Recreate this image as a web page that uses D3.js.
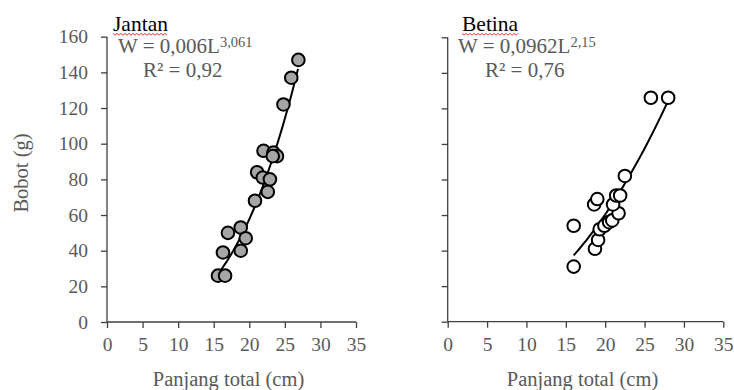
<!DOCTYPE html>
<html>
<head>
<meta charset="utf-8">
<script src="https://cdn.jsdelivr.net/npm/d3@7"></script>
<style>
  body { margin: 0; background: #fff; }
  svg { font-family: "Liberation Serif", "Times New Roman", serif; }
  .axis path, .axis line { stroke: #404040; stroke-width: 1.3; }
  .axis text { fill: #595959; font-size: 19.5px; font-family: "Liberation Serif", serif; }
</style>
</head>
<body>
<div id="chart"></div>
<script>
// x ticks and y ticks
var xTicks = [0, 5, 10, 15, 20, 25, 30, 35];
var yTicks = [0, 20, 40, 60, 80, 100, 120, 140, 160];

// Jantan (male): total length (cm) and weight (g)
var jantanL = [15.6, 16.6, 16.3, 17.0, 18.8, 19.5, 18.8, 20.8, 21.1, 21.9, 22.9, 22.6, 22.0, 23.4, 23.9, 23.3, 24.8, 25.9, 26.9];
var jantanW = [26, 26, 39, 50, 53, 47, 40, 68, 84, 81, 80, 73, 96, 95, 93, 93, 122, 137, 147];

// Betina (female)
var betinaL = [16.0, 16.0, 18.7, 19.1, 19.3, 19.9, 20.5, 20.9, 21.7, 21.0, 18.6, 19.0, 21.4, 21.9, 22.5, 25.8, 28.0];
var betinaW = [31, 54, 41, 46, 52, 54, 56, 57, 61, 66, 66, 69, 71, 71, 82, 126, 126];

// fitted power curves (as printed on the chart)
var jantanFit = {a: 0.006, b: 3.061, from: 15.6, to: 26.9};
var betinaFit = {a: 0.0962, b: 2.15, from: 16.0, to: 28.0};

var svg = d3.select("#chart").append("svg").attr("width", 734).attr("height", 390);

function panel(opt) {
    var x = d3.scaleLinear().domain([0, 35]).range([opt.left, opt.right]);
    var y = d3.scaleLinear().domain([0, 160]).range([opt.bottom, opt.top]);

    var xAxis = d3.axisBottom(x).tickValues(xTicks).tickSize(6).tickPadding(9);
    var yAxis = d3.axisLeft(y).tickValues(yTicks).tickSize(6).tickPadding(13);
    if (!opt.yLabels) yAxis.tickFormat("");

    svg.append("g").attr("class", "axis x")
        .attr("transform", "translate(0," + opt.bottom + ")")
        .call(xAxis)
        .call(function (g) { g.select(".domain").attr("d", "M" + opt.left + ",0H" + opt.right); });

    svg.append("g").attr("class", "axis y")
        .attr("transform", "translate(" + opt.left + ",0)")
        .call(yAxis)
        .call(function (g) { g.select(".domain").attr("d", "M0," + opt.bottom + "V" + opt.top); });

    // trend line from the printed equation
    var fitL = d3.range(opt.fit.from, opt.fit.to + 0.001, 0.25);
    var line = d3.line()
        .x(function (d) { return x(d); })
        .y(function (d) { return y(opt.fit.a * Math.pow(d, opt.fit.b)); });
    svg.append("path").attr("d", line(fitL))
        .attr("fill", "none").attr("stroke", "#000").attr("stroke-width", 2);

    svg.append("g").selectAll("circle")
        .data(opt.L)
        .join("circle")
        .attr("cx", function (d) { return x(d); })
        .attr("cy", function (d, i) { return y(opt.W[i]); })
        .attr("r", 6.3)
        .attr("fill", opt.fill)
        .attr("stroke", "#000")
        .attr("stroke-width", 2);

    // title + red spell-check squiggle
    var t = svg.append("text").attr("x", opt.titleX).attr("y", 31)
        .attr("font-size", 21.5).attr("fill", "#000").text(opt.title);
    var tw = t.node().getComputedTextLength();
    var sq = d3.range(0, tw, 2).map(function (d, i) { return [opt.titleX + d, 34 + (i % 2 ? 1.2 : -0.6)]; });
    svg.append("path").attr("d", d3.line()(sq)).attr("fill", "none")
        .attr("stroke", "#e02020").attr("stroke-width", 0.9);

    // equation
    var eq = svg.append("text").attr("x", opt.eqX).attr("y", 53)
        .attr("font-size", 21).attr("fill", "#595959");
    eq.append("tspan").text(opt.eq);
    eq.append("tspan").attr("font-size", 14.5).attr("dy", -6).text(opt.exp);

    svg.append("text").attr("x", opt.rX).attr("y", 77)
        .attr("font-size", 21).attr("fill", "#595959").text(opt.r2);

    // x axis title
    svg.append("text").attr("x", (opt.left + opt.right) / 2 - 3).attr("y", 386)
        .attr("text-anchor", "middle").attr("font-size", 20.5).attr("fill", "#595959")
        .text("Panjang total (cm)");
}

panel({left: 107, right: 356, top: 36.7, bottom: 322, yLabels: true,
    L: jantanL, W: jantanW, fit: jantanFit, fill: "#a6a6a6",
    title: "Jantan", titleX: 113, eq: "W = 0,006L", exp: "3,061", eqX: 118, r2: "R\u00b2 = 0,92", rX: 143});

panel({left: 447.7, right: 723.3, top: 37.3, bottom: 321.7, yLabels: false,
    L: betinaL, W: betinaW, fit: betinaFit, fill: "#fff",
    title: "Betina", titleX: 462, eq: "W = 0,0962L", exp: "2,15", eqX: 458, r2: "R\u00b2 = 0,76", rX: 485});

// y axis title
svg.append("text")
    .attr("transform", "translate(28,173) rotate(-90)")
    .attr("text-anchor", "middle").attr("font-size", 20.5).attr("fill", "#595959")
    .text("Bobot (g)");
</script>
</body>
</html>
